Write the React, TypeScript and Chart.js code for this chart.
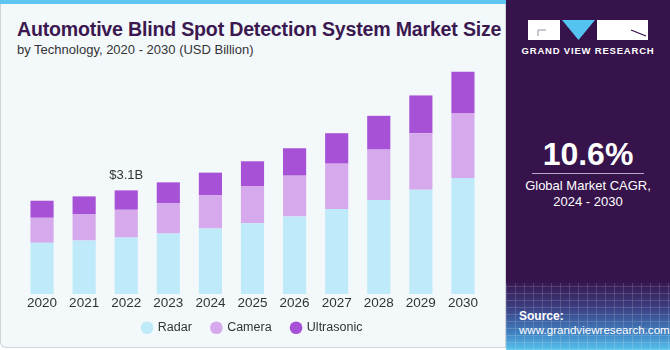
import React, { useEffect, useRef } from "react";
import { Chart, registerables } from "chart.js";

Chart.register(...registerables);

const years = ["2020", "2021", "2022", "2023", "2024", "2025", "2026", "2027", "2028", "2029", "2030"];
const radar = [1.53, 1.6, 1.69, 1.81, 1.96, 2.12, 2.32, 2.54, 2.81, 3.12, 3.47];
const camera = [0.75, 0.78, 0.83, 0.91, 1.0, 1.11, 1.22, 1.36, 1.51, 1.69, 1.93];
const ultrasonic = [0.51, 0.54, 0.58, 0.62, 0.67, 0.74, 0.82, 0.91, 1.01, 1.13, 1.25];
const annotationIndex = 2;
const annotationText = "$3.1B";

const FONT = "'Liberation Sans', Arial, sans-serif";

const labelPlugin = {
  id: "topLabel",
  afterLayout(chart: any) {
    const x = chart.scales.x;
    if (x) x.bottom = x.top + 22;
  },
  afterDatasetsDraw(chart: any) {
    const meta = chart.getDatasetMeta(2);
    const el = meta.data[annotationIndex];
    if (!el) return;
    const ctx = chart.ctx;
    ctx.save();
    ctx.font = `13px ${FONT}`;
    ctx.fillStyle = "#333333";
    ctx.textAlign = "center";
    ctx.textBaseline = "middle";
    ctx.fillText(annotationText, el.x, el.y - 15);
    ctx.restore();
  },
};

export default function App() {
  const ref = useRef<HTMLCanvasElement | null>(null);
  useEffect(() => {
    if (!ref.current) return;
    const chart = new Chart(ref.current, {
      type: "bar",
      data: {
        labels: years,
        datasets: [
          { label: "Radar", data: radar, backgroundColor: "#bfeaf9" },
          { label: "Camera", data: camera, backgroundColor: "#d5a9ec" },
          { label: "Ultrasonic", data: ultrasonic, backgroundColor: "#a651d6" },
        ],
      },
      options: {
        animation: false,
        responsive: false,
        maintainAspectRatio: false,
        datasets: { bar: { barPercentage: 0.55, categoryPercentage: 1 } },
        layout: { padding: { left: 21, right: 0, top: 0, bottom: 0 } },
        scales: {
          x: {
            stacked: true,
            grid: { display: false, drawTicks: false, tickLength: 0 },
            border: { display: false },
            ticks: { color: "#333333", font: { family: FONT, size: 13.5 }, padding: 1 },
            afterFit(scale: any) {
              scale.height = 7.5;
            },
          },
          y: {
            stacked: true,
            display: false,
            min: 0,
            max: 7,
          },
        },
        plugins: {
          legend: {
            position: "bottom",
            labels: {
              usePointStyle: true,
              pointStyle: "circle",
              boxWidth: 9,
              boxHeight: 9,
              padding: 20,
              color: "#333333",
              font: { family: FONT, size: 12.5 },
            },
          },
          tooltip: { enabled: false },
        },
      },
      plugins: [labelPlugin],
    });
    return () => chart.destroy();
  }, []);

  return (
    <div style={{ position: "fixed", left: 0, top: 0, width: 670, height: 350, overflow: "hidden", background: "#ffffff", fontFamily: FONT }}>
      <div style={{ position: "absolute", left: 0, top: 0, width: 506, height: 348, background: "#f3f8fb", border: "1px solid #cfd3d6", borderTop: "none", borderBottomLeftRadius: 6, boxSizing: "border-box" }} />
      <div style={{ position: "absolute", left: 0, top: 0, width: 506, height: 4, background: "#5cc6ef" }} />
      <div style={{ position: "absolute", left: 17, top: 18, fontSize: 19.6, fontWeight: 900, color: "#3b1850", whiteSpace: "nowrap", letterSpacing: -0.2 }}>
        Automotive Blind Spot Detection System Market Size
      </div>
      <div style={{ position: "absolute", left: 17, top: 42, fontSize: 13, color: "#333333", whiteSpace: "nowrap" }}>
        by Technology, 2020 - 2030 (USD Billion)
      </div>
      <div style={{ position: "absolute", left: 0, top: 60, width: 484, height: 284 }}>
        <canvas ref={ref} width={484} height={284} style={{ width: 484, height: 284 }} />
      </div>
      <div style={{ position: "absolute", left: 506, top: 0, width: 164, height: 350, background: "linear-gradient(180deg, #36134b 0%, #36134b 80%, #3b3f82 88%, #3f7fc0 95%, #57c3ee 100%)" }}>
        <div style={{ position: "absolute", left: 0, top: 283, width: 164, height: 67, opacity: 0.25, backgroundImage: "repeating-linear-gradient(90deg, rgba(255,255,255,0.6) 0 1px, transparent 1px 9px), repeating-linear-gradient(0deg, rgba(255,255,255,0.6) 0 1px, transparent 1px 7px)" }} />
        <svg style={{ position: "absolute", left: 0, top: 0 }} width={164} height={60}>
          <rect x={22} y={20} width={32} height={20} fill="#ffffff" />
          <polyline points="40,30 32,30 32,36" fill="none" stroke="#9a8fa6" strokeWidth={1} />
          <polygon points="56,20 89,20 72.5,40" fill="#55c3f0" />
          <rect x={91} y={20} width={51} height={20} fill="#ffffff" />
          <line x1={125} y1={30} x2={140} y2={36} stroke="#36134b" strokeWidth={1.2} />
        </svg>
        <div style={{ position: "absolute", left: 0, top: 45, width: 164, textAlign: "center", color: "#ffffff", fontSize: 9.5, fontWeight: 700, letterSpacing: 0.8, whiteSpace: "nowrap" }}>
          GRAND VIEW RESEARCH
        </div>
        <div style={{ position: "absolute", left: 0, top: 136, width: 164, textAlign: "center", color: "#ffffff", fontSize: 32, fontWeight: 700, whiteSpace: "nowrap" }}>
          10.6%
        </div>
        <div style={{ position: "absolute", left: 26, top: 173, width: 112, height: 1, background: "#b9a9c6" }} />
        <div style={{ position: "absolute", left: 0, top: 178, width: 164, textAlign: "center", color: "#ffffff", fontSize: 13, lineHeight: "16px", whiteSpace: "nowrap" }}>
          Global Market CAGR,<br />2024 - 2030
        </div>
        <div style={{ position: "absolute", left: 13, top: 309, color: "#ffffff", fontSize: 12, fontWeight: 700, whiteSpace: "nowrap" }}>
          Source:
        </div>
        <div style={{ position: "absolute", left: 13, top: 323, color: "#ffffff", fontSize: 11.6, whiteSpace: "nowrap" }}>
          www.grandviewresearch.com
        </div>
      </div>
    </div>
  );
}
